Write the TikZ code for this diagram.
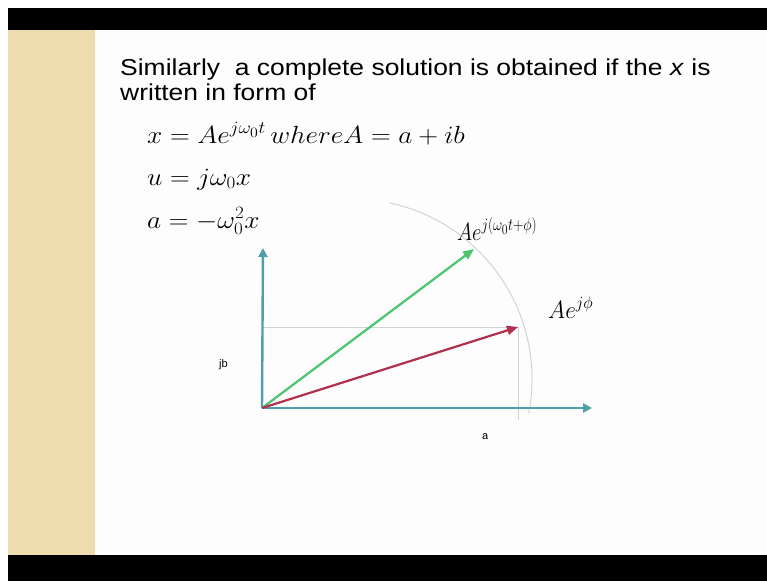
\documentclass[tikz,border=0pt]{standalone}
\usepackage{amsmath}
\usepackage{fontspec}
\setmainfont{Liberation Sans}
\usetikzlibrary{arrows.meta}

\definecolor{axisteal}{HTML}{4E9FA8}
\definecolor{phasorgreen}{HTML}{4CC46E}
\definecolor{phasorred}{HTML}{B0304E}
\definecolor{guidegray}{HTML}{CCD6D6}
\definecolor{stripbeige}{HTML}{EEDCAE}
\definecolor{slidewhite}{HTML}{FDFDFD}

\begin{document}
\begin{tikzpicture}[
  x=1pt, y=-1pt,
  >=Latex,
  axis/.style={draw=axisteal, line width=2.4pt, -{Triangle[length=9pt,width=9pt]}},
  phasor/.style={line width=2.2pt, -{Triangle[length=11pt,width=9pt]}},
  guide/.style={draw=guidegray, line width=1pt},
  body/.style={anchor=base west, inner sep=0pt, transform shape, xscale=1.15, font=\fontsize{23}{26}\selectfont},
  eqn/.style={anchor=base west, inner sep=0pt, transform shape, xscale=1.1, font=\fontsize{27}{30}\selectfont},
  tag/.style={anchor=base west, inner sep=0pt, font=\fontsize{11}{12}\selectfont}
]
  % slide frame
  \useasboundingbox (0,0) rectangle (767,581);
  \fill[white] (0,0) rectangle (767,581);
  \fill[black] (8,8) rectangle (767,30);
  \fill[black] (8,555) rectangle (767,581);
  \fill[stripbeige] (8,30) rectangle (95,555);
  \fill[slidewhite] (95,30) rectangle (767,555);

  % text
  \node[body] (line1) at (120,75) {Similarly\ \ a complete solution is obtained if the \textit{x} is};
  \node[body] (line2) at (120,100) {written in form of};
  \node[eqn] (eq1) at (147,143) {$x=Ae^{j\omega_0 t}\,whereA=a+ib$};
  \node[eqn] (eq2) at (147,185) {$u=j\omega_0 x$};
  \node[eqn] (eq3) at (147,228) {$a=-\omega_0^2 x$};

  % phasor diagram
  \coordinate (o) at (262,408);
  \coordinate (ytop) at (263,248);
  \coordinate (xend) at (592,408);
  \coordinate (tipg) at (474,249);
  \coordinate (tipr) at (518,327);
  \coordinate (rfoot) at (518,420);
  \coordinate (c) at (352,379);

  \draw[guide] (c) ++(-78:180) arc[start angle=-78, end angle=11, radius=180];
  \draw[guide] (o |- tipr) -- (tipr) -- (rfoot);

  \draw[axis] (o) -- (ytop);
  \draw[axis] (o) -- (xend);
  \draw[phasor, draw=phasorgreen, fill=phasorgreen] (o) -- (tipg);
  \draw[phasor, draw=phasorred, fill=phasorred] (o) -- (tipr);

  \node[eqn, xscale=0.75] (lg) at (457,240) {$Ae^{j(\omega_0 t+\phi)}$};
  \node[eqn, xscale=0.85] (lr) at (548,318) {$Ae^{j\phi}$};
  \node[tag] (jb) at (219,367) {jb};
  \node[tag] (la) at (482,439) {a};
\end{tikzpicture}
\end{document}
